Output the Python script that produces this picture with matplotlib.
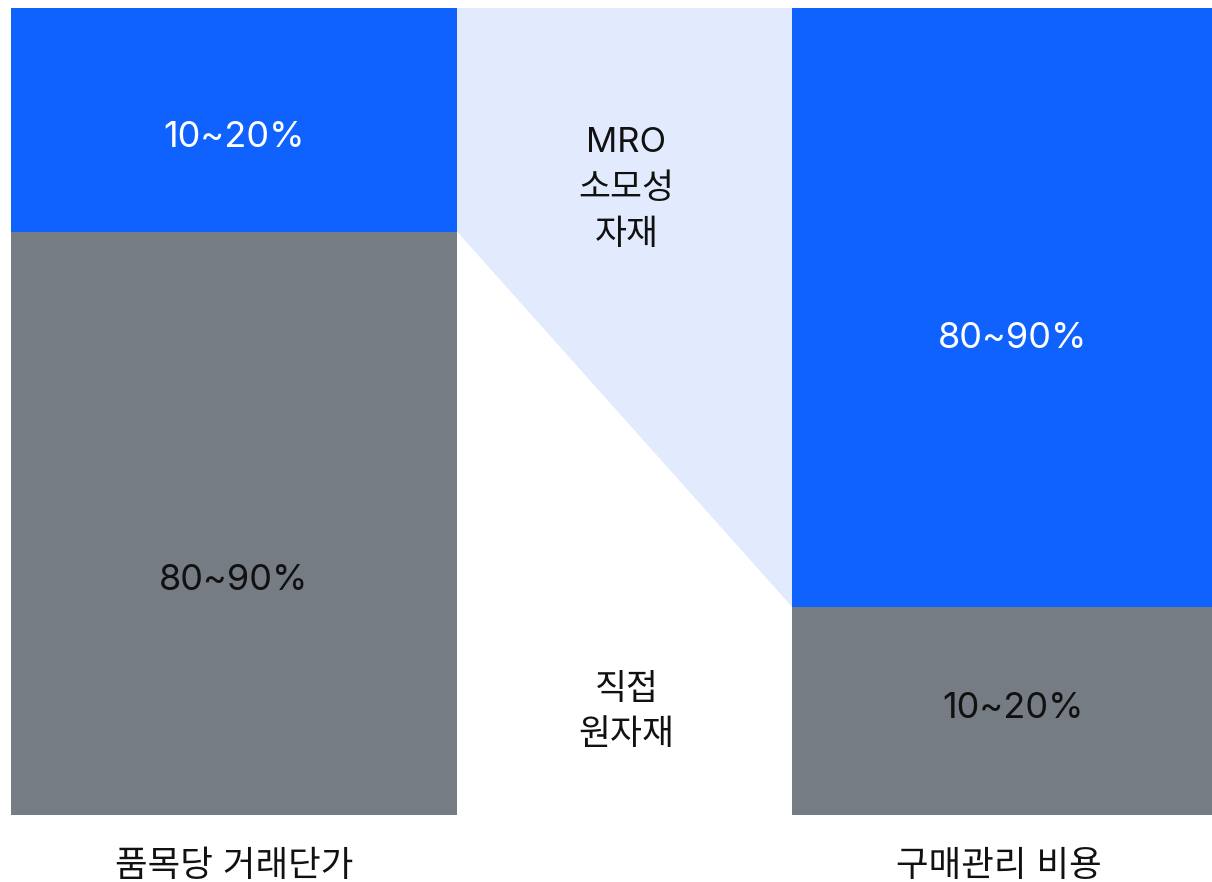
import matplotlib
matplotlib.use('Agg')
import matplotlib.pyplot as plt

plt.rcParams['font.family'] = ['Inter', 'Noto Sans CJK KR', 'DejaVu Sans']

# data
bars = ['품목당 거래단가', '구매관리 비용']
mro_share = [27.7, 74.2]        # 파란색(MRO) 부분 비율
direct_share = [72.3, 25.8]     # 회색(직접 원자재) 부분 비율
mro_labels = ['10~20%', '80~90%']
direct_labels = ['80~90%', '10~20%']
mro_name = 'MRO\n소모성\n자재'
direct_name = '직접\n원자재'

blue = '#1062FE'
gray = '#767C83'
light = '#E1EBFD'
ink = '#111111'

# label positions (axis units), as placed in the original layout
mro_label_y = [84.0, 59.0]
direct_label_y = [29.0, 13.2]
name_x = [234, 999]

W, H = 1212, 882
fig = plt.figure(figsize=(W / 100, H / 100), dpi=100)
# axes: y 0..100 spans pixel rows 815..8
ax = fig.add_axes([0, (H - 815) / H, 1, 807 / H])
ax.set_xlim(0, W)
ax.set_ylim(0, 100)
ax.axis('off')

lefts = [11, 792]
widths = [446, 442]   # right bar runs off the edge of the canvas

# connecting band (MRO share) between the two bars
x0 = lefts[0] + widths[0]
x1 = lefts[1]
ax.fill([x0, x1, x1, x0],
        [100, 100, direct_share[1], direct_share[0]],
        color=light, lw=0, zorder=1)

ax.bar(lefts, direct_share, width=widths, align='edge', color=gray, lw=0, zorder=2)
ax.bar(lefts, mro_share, width=widths, bottom=direct_share, align='edge',
       color=blue, lw=0, zorder=2)

for i in range(2):
    cx = lefts[i] + widths[i] / 2
    ax.text(cx, mro_label_y[i], mro_labels[i],
            ha='center', va='center', color='white', fontsize=26, zorder=3)
    ax.text(cx, direct_label_y[i], direct_labels[i],
            ha='center', va='center', color=ink, fontsize=26, zorder=3)
    ax.text(name_x[i], -6.4, bars[i], ha='center', va='center', color=ink,
            fontsize=25.5, clip_on=False)

mid = (x0 + x1) / 2 + 2
ax.text(mid, 77.6, mro_name, ha='center', va='center', fontsize=25,
        color=ink, linespacing=1.55, zorder=3)
ax.text(mid, 12.7, direct_name, ha='center', va='center', fontsize=25,
        color=ink, linespacing=1.55, zorder=3)

fig.savefig('out.png', dpi=100)
